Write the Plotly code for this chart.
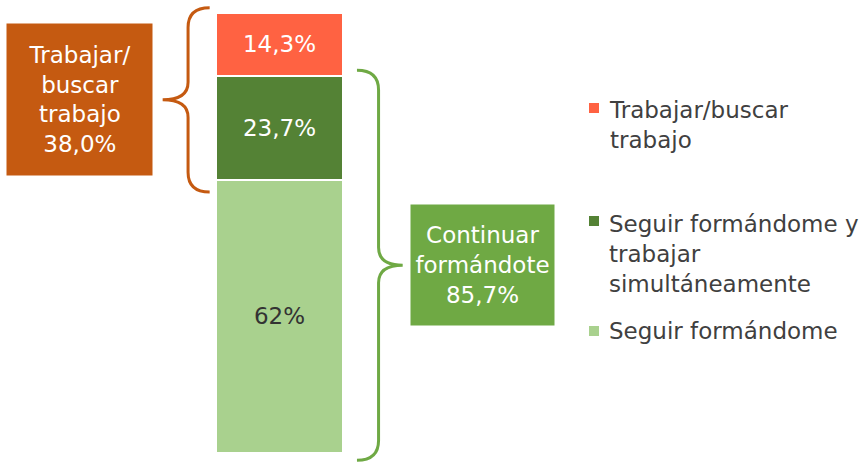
import plotly.graph_objects as go

# ---------------------------------------------------------------------------
# Data (bottom -> top of the stacked bar)
# ---------------------------------------------------------------------------
series_names = [
    "Seguir formándome",
    "Seguir formándome y trabajar simultáneamente",
    "Trabajar/buscar trabajo",
]
legend_labels = [
    "Seguir formándome",
    "Seguir formándome y<br>trabajar<br>simultáneamente",
    "Trabajar/buscar<br>trabajo",
]
values = [62.0, 23.7, 14.3]
bar_labels = ["62%", "23,7%", "14,3%"]

colors = ["#A9D18E", "#548235", "#FF6242"]
label_colors = ["#333333", "#FFFFFF", "#FFFFFF"]

ORANGE = "#C55A11"
GREEN = "#6FA944"
FONT = "DejaVu Sans"
W, H = 863, 462


def es(v):
    return f"{v:.1f}".replace(".", ",") + "%"


fig = go.Figure()
for name, v, col, lab, lc in zip(series_names, values, colors, bar_labels, label_colors):
    fig.add_trace(go.Bar(
        x=[0], y=[v], width=1, name=name,
        marker=dict(color=col, line=dict(color="white", width=2)),
        text=[lab], textposition="inside", insidetextanchor="middle",
        textfont=dict(family=FONT, size=23, color=lc),
        showlegend=False, hoverinfo="skip",
    ))

# cumulative boundaries
cum = [0.0]
for v in values:
    cum.append(cum[-1] + v)

work_total = values[1] + values[2]   # Trabajar/buscar trabajo = 38,0%
study_total = values[0] + values[1]  # Continuar formándote = 85,7%


def brace(y_bot, y_top, x_end, x_vert, x_tip, r_end=4.5, r_mid=4.0):
    yc = (y_bot + y_top) / 2
    return (f"M {x_end},{y_top} Q {x_vert},{y_top} {x_vert},{y_top - r_end} "
            f"L {x_vert},{yc + r_mid} Q {x_vert},{yc} {x_tip},{yc} "
            f"Q {x_vert},{yc} {x_vert},{yc - r_mid} "
            f"L {x_vert},{y_bot + r_end} Q {x_vert},{y_bot} {x_end},{y_bot}")


# left brace: spans the two "working" segments
ob_bot, ob_top = cum[1] - 2.7, cum[3] + 1.2
# right brace: spans the two "studying" segments
gb_bot, gb_top = cum[0] - 1.7, cum[2] + 1.3

fig.add_shape(type="path", xref="x", yref="y",
              path=brace(ob_bot, ob_top, -0.55, -0.72, -0.92),
              line=dict(color=ORANGE, width=3))
fig.add_shape(type="path", xref="x", yref="y",
              path=brace(gb_bot, gb_top, 0.61, 0.78, 0.97),
              line=dict(color=GREEN, width=3))

fig.add_annotation(
    x=-1.575, y=(ob_bot + ob_top) / 2, xref="x", yref="y",
    text="Trabajar/<br>buscar<br>trabajo<br>" + es(work_total),
    showarrow=False, bgcolor=ORANGE, width=145, height=151, borderpad=0,
    font=dict(family=FONT, size=23, color="white"), align="center",
)
fig.add_annotation(
    x=1.598, y=(gb_bot + gb_top) / 2, xref="x", yref="y",
    text="Continuar<br>formándote<br>" + es(study_total),
    showarrow=False, bgcolor=GREEN, width=143, height=120, borderpad=0,
    font=dict(family=FONT, size=23, color="white"), align="center",
)

# legend drawn by hand (top -> bottom order as in the original)
legend_y = [125, 254, 331]
square_y = [108, 221, 331]
for i, idx in enumerate([2, 1, 0]):
    fig.add_shape(type="rect", xref="paper", yref="paper",
                  x0=589 / W, x1=599 / W,
                  y0=1 - (square_y[i] + 5) / H, y1=1 - (square_y[i] - 5) / H,
                  fillcolor=colors[idx], line=dict(width=0))
    fig.add_annotation(
        x=607 / W, y=1 - legend_y[i] / H, xref="paper", yref="paper",
        xanchor="left", yanchor="middle", align="left", showarrow=False,
        text=legend_labels[idx],
        font=dict(family=FONT, size=23, color="#404040"),
    )

fig.update_layout(
    width=W, height=H,
    margin=dict(l=0, r=0, t=0, b=0),
    barmode="stack",
    paper_bgcolor="white", plot_bgcolor="white",
    font=dict(family=FONT),
    xaxis=dict(range=[-279.5 / 127, (W - 279.5) / 127], visible=False, fixedrange=True),
    yaxis=dict(range=[-9.3 / 4.397, 100 + 13 / 4.397], visible=False, fixedrange=True),
    showlegend=False,
)

# drop the browser's default body margin so the figure fills the window
fig.write_html("out.html", config={"displayModeBar": False},
               post_script="document.body.style.margin='0';")
